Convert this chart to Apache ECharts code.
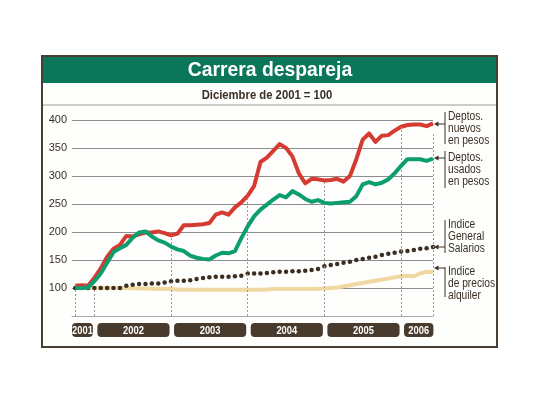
<!DOCTYPE html>
<html>
<head>
<meta charset="utf-8">
<script src="https://cdn.jsdelivr.net/npm/echarts@6/dist/echarts.min.js"></script>
<style>
  html, body { margin: 0; padding: 0; background: #fff; }
  #chart { width: 540px; height: 405px; }
</style>
</head>
<body>
<div id="chart"></div>
<script>
// indices mensuales: 0 = oct 2001 ... 56 = jun 2006
var nuevos = [104,105,104,118,135,156,170,177,193,192, 196,199,199,201,198,194,197,212,212,213,
  214,216,231,235,231,244,253,265,282,325, 333,345,357,350,335,305,287,295,294,292,
  293,295,290,300,330,365,376,361,372,373, 381,388,391,392,392,389,394];
var usados = [100,100,101,112,126,145,164,171,177,190, 199,201,192,185,181,174,169,166,158,154,
  152,151,158,163,162,166,189,210,228,240, 249,258,266,262,273,267,259,254,257,252,
  251,252,253,254,264,285,289,285,288,294, 305,318,330,330,330,327,331];
var salarios = [100,100,100,100,100,100,100,100,104,106, 107,107,108,108,110,112,113,113,114,116,
  118,119,120,120,120,121,122,126,126,126, 127,128,129,129,130,130,131,132,134,139,
  141,143,145,147,150,152,154,156,159,161, 163,165,166,168,170,171,173];
var alquiler = [100,100,100,100,100,100,100,100,100,99.5, 99,99,98.5,98,98,98,97.5,97,97,97,
  97,97,97,97,97,97,97,97,97,97, 97.5,98,98,98,98,98,98,98,98.5,99,
  100,101,103,105,107,109,111,113,115,117, 119,121,122,121,126,129,128];

// cortes de año (índice de mes) y rótulos
var yearCuts = [-0.5, 3, 15, 27, 39, 51, 56.3];
var yearLabels = ['2001', '2002', '2003', '2004', '2005', '2006'];
// líneas punteadas verticales: mes y altura hasta donde llegan
var guideMonths = [0, 3, 15, 27, 39, 51, 56];
var guideTops = [100, 100, 194, 265, 292, 388, 378];

var yTicks = [100, 150, 200, 250, 300, 350, 400];

function pairs(arr) {
  return arr.map(function (v, i) { return [i, v]; });
}

var SANS = '"Liberation Sans", Arial, sans-serif';
var INK = '#3a3026';

var yearBoxes = [];
for (var k = 0; k < yearLabels.length; k++) {
  yearBoxes.push([yearCuts[k], yearCuts[k + 1]]);
}

var chart = echarts.init(document.getElementById('chart'), null, { renderer: 'canvas' });

// rótulo a la derecha, con barra vertical y flecha
function note(lines, top, barTop, barBottom, arrowY) {
  return [
    { type: 'line', shape: { x1: 445, y1: barTop, x2: 445, y2: barBottom },
      style: { stroke: INK, lineWidth: 1 }, z: 10 },
    { type: 'line', shape: { x1: 437, y1: arrowY, x2: 445, y2: arrowY },
      style: { stroke: INK, lineWidth: 1 }, z: 10 },
    { type: 'polygon', shape: { points: [[434, arrowY], [438.5, arrowY - 2.5], [438.5, arrowY + 2.5]] },
      style: { fill: INK }, z: 10 },
    { type: 'text', x: 448, y: top, scaleX: 0.85, z: 10,
      style: { text: lines.join('\n'), font: '12px ' + SANS, fill: INK, lineHeight: 12 } }
  ];
}

var graphics = [
  // marco
  { type: 'rect', shape: { x: 42, y: 56, width: 455, height: 291 },
    style: { fill: '#fefefc', stroke: '#4a3e33', lineWidth: 2 }, z: -10 },
  { type: 'rect', shape: { x: 43, y: 57, width: 453, height: 26 },
    style: { fill: '#0a775a' }, z: -9 },
  { type: 'line', shape: { x1: 43, y1: 105, x2: 496, y2: 105 },
    style: { stroke: '#9a9a9a', lineWidth: 1 }, z: -9 },
  { type: 'text', x: 270, y: 70, scaleX: 0.92, z: 5,
    style: { text: 'Carrera despareja', font: 'bold 21px ' + SANS, fill: '#fff',
      align: 'center', verticalAlign: 'middle' } },
  { type: 'text', x: 267, y: 96, scaleX: 0.94, z: 5,
    style: { text: 'Diciembre de 2001 = 100', font: 'bold 12px ' + SANS, fill: INK,
      align: 'center', verticalAlign: 'middle' } }
];
graphics = graphics
  .concat(note(['Deptos.', 'nuevos', 'en pesos'], 111, 112, 144, 124))
  .concat(note(['Deptos.', 'usados', 'en pesos'], 152, 151, 188, 158))
  .concat(note(['Indice', 'General', 'Salarios'], 219, 220, 253, 247))
  .concat(note(['Indice', 'de precios', 'alquiler'], 266, 267, 297, 268));

var option = {
  animation: false,
  backgroundColor: '#ffffff',
  graphic: graphics,
  grid: {
    left: 72,
    right: 107,
    top: 120,
    bottom: 89,
    outerBoundsMode: 'none'
  },
  xAxis: {
    type: 'value',
    min: -0.5,
    max: 56,
    axisLine: { show: true, lineStyle: { color: '#aaaaaa', width: 1 } },
    axisTick: { show: false },
    axisLabel: { show: false },
    splitLine: { show: false }
  },
  yAxis: {
    type: 'value',
    min: 50,
    max: 400,
    interval: 50,
    axisLine: { show: false },
    axisTick: { show: false },
    axisLabel: {
      showMinLabel: false,
      margin: 5,
      color: INK,
      fontSize: 11,
      fontFamily: SANS,
      formatter: function (v) { return yTicks.indexOf(v) >= 0 ? String(v) : ''; }
    },
    splitLine: {
      show: true,
      showMinLine: false,
      lineStyle: { color: '#8c8c8c', width: 1 }
    }
  },
  series: [
    {
      name: 'Indice de precios alquiler',
      type: 'line',
      data: pairs(alquiler),
      showSymbol: false,
      lineStyle: { color: '#f0d8a2', width: 4 },
      z: 2
    },
    {
      name: 'Indice General Salarios',
      type: 'line',
      data: pairs(salarios),
      symbol: 'circle',
      symbolSize: 4.5,
      showSymbol: true,
      itemStyle: { color: '#3b2f24' },
      lineStyle: { width: 0 },
      z: 3
    },
    {
      name: 'Deptos. nuevos en pesos',
      type: 'line',
      data: pairs(nuevos),
      showSymbol: false,
      lineStyle: { color: '#d63b32', width: 4, join: 'round' },
      z: 4,
      markLine: {
        silent: true,
        symbol: 'none',
        label: { show: false },
        lineStyle: { color: '#9a9a9a', width: 1, type: [2, 2] },
        data: guideMonths.map(function (m, i) {
          return [{ coord: [m, 50] }, { coord: [m, guideTops[i]] }];
        })
      }
    },
    {
      name: 'Deptos. usados en pesos',
      type: 'line',
      data: pairs(usados),
      showSymbol: false,
      lineStyle: { color: '#0c9e6e', width: 4, join: 'round' },
      z: 5
    },
    {
      name: 'años',
      type: 'custom',
      data: yearBoxes,
      clip: false,
      silent: true,
      z: 6,
      renderItem: function (params, api) {
        var s = api.coord([api.value(0), 50]);
        var e = api.coord([api.value(1), 50]);
        var inset = params.dataIndex === 0 ? 0 : 3;
        return {
          type: 'group',
          children: [
            { type: 'rect',
              shape: { x: s[0] + inset, y: s[1] + 7, width: e[0] - s[0] - inset - 1.5, height: 14, r: 4 },
              style: { fill: '#483a2c' } },
            { type: 'text',
              x: (s[0] + inset + e[0] - 1.5) / 2, y: s[1] + 14.5, scaleX: 0.85,
              style: { text: yearLabels[params.dataIndex], x: 0, y: 0,
                align: 'center', verticalAlign: 'middle', fill: '#ffffff',
                font: 'bold 11px ' + SANS } }
          ]
        };
      }
    }
  ]
};

chart.setOption(option);
</script>
</body>
</html>
